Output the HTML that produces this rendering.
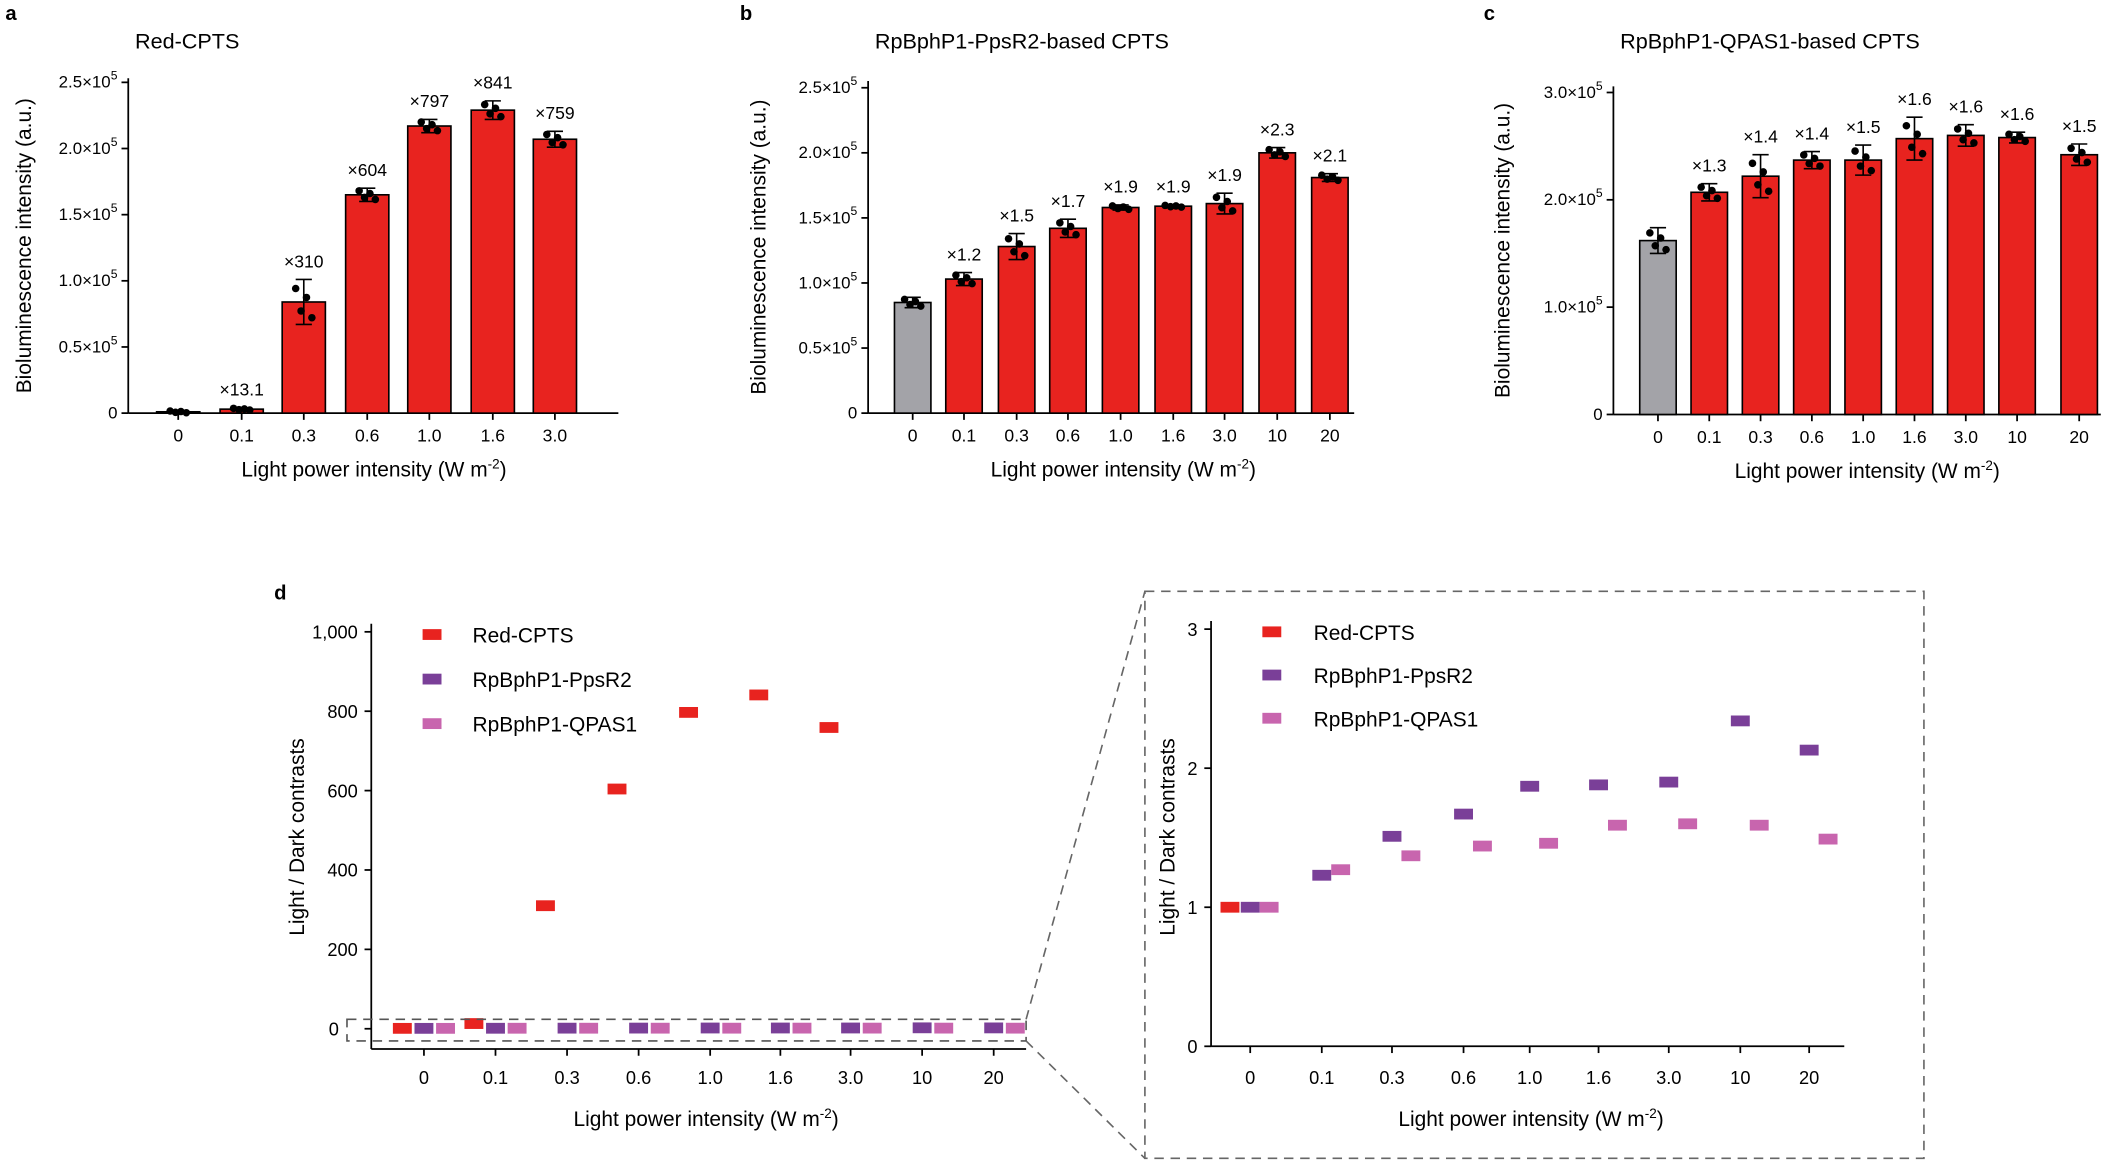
<!DOCTYPE html>
<html><head><meta charset="utf-8"><style>
html,body{margin:0;padding:0;background:#fff;}
svg{display:block;font-family:"Liberation Sans",Arial,sans-serif;}
</style></head><body>
<svg id="s" width="2117" height="1162" viewBox="0 0 1568 860.7" preserveAspectRatio="none" xmlns="http://www.w3.org/2000/svg"></svg>
<script>
const S=document.getElementById('s');let h='';
const R='#e8231f',P='#7a3f98',K='#c865ae',G='#a3a3a8';
function t(x,y,s,sz,anc,extra){h+=`<text x="${x}" y="${y}" font-size="${sz||13}" text-anchor="${anc||'start'}" ${extra||''}>${s}</text>`;}
function l(x1,y1,x2,y2,w,extra){h+=`<line x1="${x1}" y1="${y1}" x2="${x2}" y2="${y2}" stroke="#000" stroke-width="${w||1.3}" ${extra||''}/>`;}
function dl(x1,y1,x2,y2){h+=`<line x1="${x1}" y1="${y1}" x2="${x2}" y2="${y2}" stroke="#666" stroke-width="1.2" stroke-dasharray="7,5"/>`;}
function bar(p){
 const {ax,y0,k,xs,vals,labs,xt,ticks,ymax,xend,title,letter,lx,bw,sd}=p;
 t(letter[1],15,letter[0],15,'start','font-weight="bold"');
 t(ax+5,36,title,16);
 l(ax,y0,ax,ymax);l(ax,y0,xend,y0);
 ticks.forEach(([v,s])=>{const y=y0-v*k;l(ax-5,y,ax,y);t(ax-8,y+4,s,12.5,'end');});
 xs.forEach((x,i)=>{l(x,y0,x,y0+5);t(x,y0+21,xt[i],13,'middle');
  const v=vals[i],y=y0-v*k;const c=(p.gray&&i==0)?G:R;
  h+=`<rect x="${x-bw/2}" y="${y}" width="${bw}" height="${v*k}" fill="${c}" stroke="#000" stroke-width="1.2"/>`;
  const e=sd[i]*k;l(x,y-e,x,y+e,1.2);l(x-6,y-e,x+6,y-e,1.2);l(x-6,y+e,x+6,y+e,1.2);
  [-6,-2,2,6].forEach((dx,j)=>{h+=`<circle cx="${x+dx}" cy="${y+[(-0.6),0.4,-0.2,0.7][j]*e}" r="2.8" fill="#000"/>`;});
  if(labs[i])t(x,y-e-9,labs[i],13,'middle');
 });
 t(lx,y0+47,'Light power intensity (W m<tspan dy="-6" font-size="10">-2</tspan><tspan dy="6">)</tspan>',15.5,'middle');
 t(0,0,'Bioluminescence intensity (a.u.)',15.5,'middle',`transform="translate(${letter[1]+19},${(y0+ymax)/2}) rotate(-90)"`);
}
const e5=m=>m+'×10<tspan dy="-6" font-size="9">5</tspan>';
bar({letter:['a',4],ax:95,y0:306,k:98,xend:458,ymax:58,xs:[132,179,225,272,318,365,411],
 vals:[0.01,0.03,0.84,1.65,2.17,2.29,2.07],sd:[0.01,0.01,0.17,0.05,0.05,0.07,0.06],
 labs:['','×13.1','×310','×604','×797','×841','×759'],xt:['0','0.1','0.3','0.6','1.0','1.6','3.0'],
 ticks:[[0,'0'],[0.5,e5('0.5')],[1,e5('1.0')],[1.5,e5('1.5')],[2,e5('2.0')],[2.5,e5('2.5')]],
 title:'Red-CPTS',lx:277,bw:32});
bar({letter:['b',548],ax:643,y0:306,k:96.4,xend:1003,ymax:60,xs:[676,714,753,791,830,869,907,946,985],gray:1,
 vals:[0.85,1.03,1.28,1.42,1.58,1.59,1.61,2.0,1.81],sd:[0.04,0.05,0.1,0.07,0.02,0.01,0.08,0.04,0.03],
 labs:['','×1.2','×1.5','×1.7','×1.9','×1.9','×1.9','×2.3','×2.1'],xt:['0','0.1','0.3','0.6','1.0','1.6','3.0','10','20'],
 ticks:[[0,'0'],[0.5,e5('0.5')],[1,e5('1.0')],[1.5,e5('1.5')],[2,e5('2.0')],[2.5,e5('2.5')]],
 title:'RpBphP1-PpsR2-based CPTS',lx:832,bw:27});
bar({letter:['c',1099],ax:1195,y0:307,k:79.5,xend:1556,ymax:64,xs:[1228,1266,1304,1342,1380,1418,1456,1494,1540],gray:1,
 vals:[1.62,2.07,2.22,2.37,2.37,2.57,2.60,2.58,2.42],sd:[0.12,0.08,0.2,0.08,0.14,0.2,0.1,0.05,0.1],
 labs:['','×1.3','×1.4','×1.4','×1.5','×1.6','×1.6','×1.6','×1.5'],xt:['0','0.1','0.3','0.6','1.0','1.6','3.0','10','20'],
 ticks:[[0,'0'],[1,e5('1.0')],[2,e5('2.0')],[3,e5('3.0')]],
 title:'RpBphP1-QPAS1-based CPTS',lx:1383,bw:27});
// panel d
t(203,444,'d',15,'start','font-weight="bold"');
const xt=['0','0.1','0.3','0.6','1.0','1.6','3.0','10','20'];
const red=[1,13.1,310,604,797,841,759,null,null],pur=[1,1.23,1.51,1.67,1.87,1.88,1.9,2.34,2.13],pnk=[1,1.27,1.37,1.44,1.46,1.59,1.60,1.59,1.49];
function mk(x,y,c){h+=`<rect x="${x-7}" y="${y-4}" width="14" height="8" fill="${c}"/>`;}
// left
{const ax=275,y0=762,k=0.294,yb=777;l(ax,yb,ax,462);l(ax,yb,760,yb);
[[200,'200'],[400,'400'],[600,'600'],[800,'800'],[1000,'1,000']].forEach(([v,s])=>{const y=y0-v*k;l(ax-5,y,ax,y);t(ax-10,y+5,s,13.5,'end');});
l(ax-5,y0,ax,y0);t(251,y0+5,'0',13.5,'end');
const xs=[314,367,420,473,526,578,630,683,736];
xs.forEach((x,i)=>{l(x,yb,x,yb+5);t(x,yb+26,xt[i],13.5,'middle');
 if(red[i]!=null)mk(x-16,y0-red[i]*k,R);mk(x,y0-pur[i]*k,P);mk(x+16,y0-pnk[i]*k,K);});
t(523,834,'Light power intensity (W m<tspan dy="-6" font-size="10">-2</tspan><tspan dy="6">)</tspan>',15.5,'middle');
t(0,0,'Light / Dark contrasts',15.5,'middle','transform="translate(225,620) rotate(-90)"');
[[R,'Red-CPTS'],[P,'RpBphP1-PpsR2'],[K,'RpBphP1-QPAS1']].forEach(([c,s],i)=>{mk(320,470+i*33,c);t(350,476+i*33,s,15.5);});
h+=`<rect x="257" y="755" width="503" height="16" fill="none" stroke="#555" stroke-width="1.2" stroke-dasharray="7,5"/>`;
}
h+=`<rect x="848" y="438" width="577" height="420" fill="none" stroke="#666" stroke-width="1.2" stroke-dasharray="7,5"/>`;
dl(760,755,848,438);dl(760,771,848,858);
// right
{const ax=897,y0=775,k=103;l(ax,y0,ax,460);l(ax,y0,1366,y0);
[0,1,2,3].forEach(v=>{const y=y0-v*k;l(ax-5,y,ax,y);t(ax-10,y+5,v,13.5,'end');});
const xs=[926,979,1031,1084,1133,1184,1236,1289,1340];
xs.forEach((x,i)=>{l(x,y0,x,y0+5);t(x,y0+28,xt[i],13.5,'middle');
 if(i==0)mk(x-15,y0-k,R);mk(x,y0-pur[i]*k,P);mk(x+14,y0-pnk[i]*k,K);});
t(1134,834,'Light power intensity (W m<tspan dy="-6" font-size="10">-2</tspan><tspan dy="6">)</tspan>',15.5,'middle');
t(0,0,'Light / Dark contrasts',15.5,'middle','transform="translate(870,620) rotate(-90)"');
[[R,'Red-CPTS'],[P,'RpBphP1-PpsR2'],[K,'RpBphP1-QPAS1']].forEach(([c,s],i)=>{mk(942,468+i*32,c);t(973,474+i*32,s,15.5);});
}
S.innerHTML=h;
</script>
</body></html>
